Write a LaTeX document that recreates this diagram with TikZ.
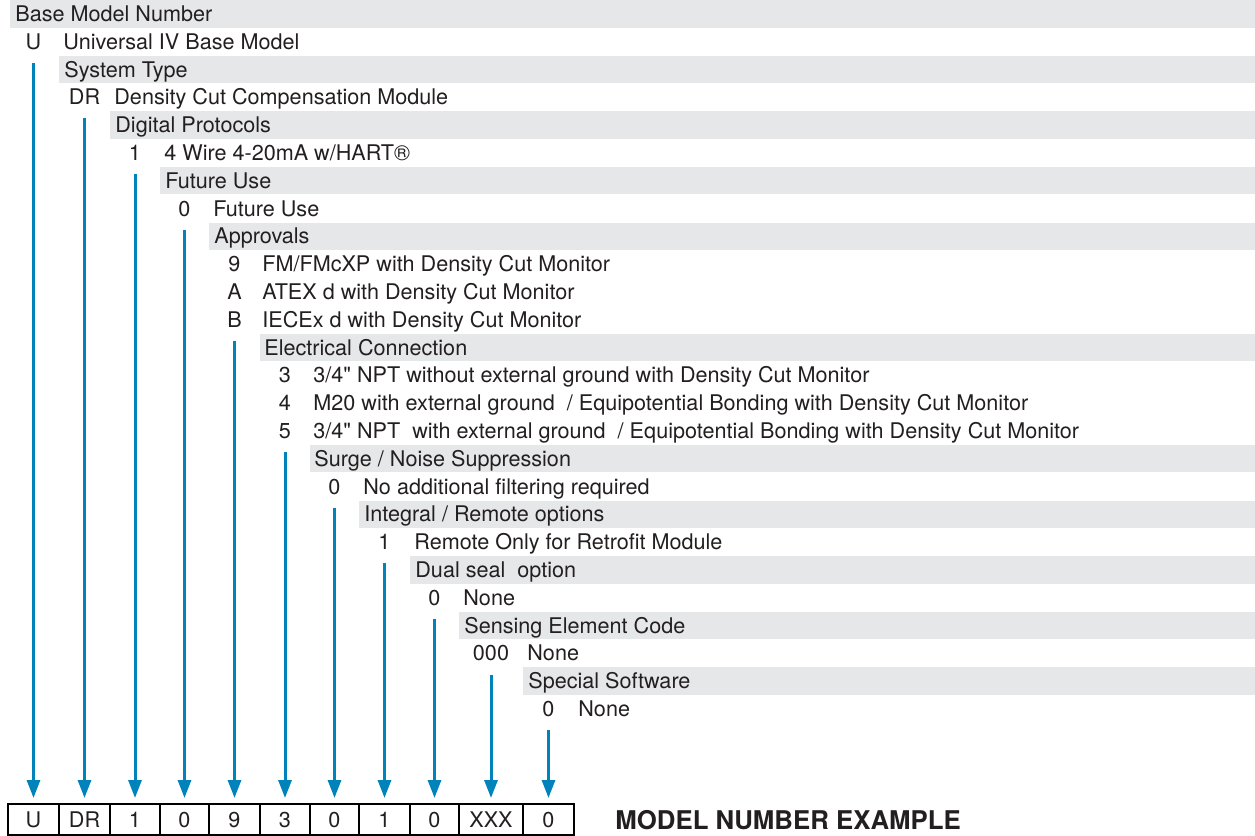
\documentclass[tikz,border=0pt]{standalone}
\usepackage{fontspec}
\setmainfont{TeX Gyre Heros}[Ligatures=TeXOff]
\usepackage{xcolor}
\definecolor{ink}{HTML}{231F20}
\definecolor{barfill}{HTML}{E6E7E8}
\definecolor{flow}{HTML}{0082BA}
\usetikzlibrary{arrows.meta}

\begin{document}
\begin{tikzpicture}[x=0.5pt,y=-0.5pt,font=\fontsize{10.8}{12}\selectfont,text=ink,
  head/.style={anchor=base west,inner sep=0pt},
  opt/.style={anchor=base,inner sep=0pt},
  txt/.style={anchor=base west,inner sep=0pt},
  cell/.style={draw=black,line width=1pt,minimum height=15.5pt,inner sep=0pt},
  pick/.style={flow,line width=1.5pt,-{Triangle[length=9pt,width=6.5pt]},shorten >=2.5pt}]
  \useasboundingbox (0,0) rectangle (1255,836);
  % grey bars behind the headings
  \foreach \x/\y in {10/13.9,59/69.5,110/125.1,160/180.7,209/236.3,260/347.5,310/458.7,359/514.3,410/569.9,459/625.5,523/681.1}
    \fill[barfill] (\x,\y-13.75) rectangle (1255,\y+13.75);
  % headings and options
  \node[head] (hbase) at (15,21.5) {Base Model Number};
  \node[opt] (cU) at (33.5,49.3) {U};
  \node[txt] at (63,49.3) {Universal IV Base Model};
  \node[head] (hsys) at (64,77.1) {System Type};
  \node[opt] (cDR) at (84.5,104.9) {DR};
  \node[txt] at (114,104.9) {Density Cut Compensation Module};
  \node[head] (hdig) at (115,132.7) {Digital Protocols};
  \node[opt] (c1) at (135,160.5) {1};
  \node[txt] at (164,160.5) {4 Wire 4-20mA w/HART®};
  \node[head] (hfut) at (165,188.3) {Future Use};
  \node[opt] (cfut) at (184.5,216.1) {0};
  \node[txt] at (213,216.1) {Future Use};
  \node[head] (happ) at (214,243.9) {Approvals};
  \node[opt] (c9) at (234.5,271.7) {9};
  \node[txt] at (262,271.7) {FM/FMcXP with Density Cut Monitor};
  \node[opt] (cA) at (234.5,299.5) {A};
  \node[txt] at (262,299.5) {ATEX d with Density Cut Monitor};
  \node[opt] (cB) at (234.5,327.3) {B};
  \node[txt] at (262,327.3) {IECEx d with Density Cut Monitor};
  \node[head] (helec) at (264,355.1) {Electrical Connection};
  \node[opt] (c3) at (285,382.9) {3};
  \node[txt] at (313,382.9) {3/4" NPT without external ground with Density Cut Monitor};
  \node[opt] (c4) at (285,410.7) {4};
  \node[txt] at (313,410.7) {M20 with external ground\ \ / Equipotential Bonding with Density Cut Monitor};
  \node[opt] (c5) at (285,438.5) {5};
  \node[txt] at (313,438.5) {3/4" NPT\ \ with external ground\ \ / Equipotential Bonding with Density Cut Monitor};
  \node[head] (hsurge) at (314,466.3) {Surge / Noise Suppression};
  \node[opt] (csurge) at (334.5,494.1) {0};
  \node[txt] at (363,494.1) {No additional filtering required};
  \node[head] (hrem) at (364,521.9) {Integral / Remote options};
  \node[opt] (crem) at (384.5,549.7) {1};
  \node[txt] at (414,549.7) {Remote Only for Retrofit Module};
  \node[head] (hseal) at (415,577.5) {Dual seal\ \ option};
  \node[opt] (cseal) at (434.5,605.3) {0};
  \node[txt] at (463,605.3) {None};
  \node[head] (hsens) at (464,633.1) {Sensing Element Code};
  \node[opt] (csens) at (491,660.9) {000};
  \node[txt] at (527,660.9) {None};
  \node[head] (hsoft) at (528,688.7) {Special Software};
  \node[opt] (csoft) at (548.5,716.5) {0};
  \node[txt] at (578,716.5) {None};
  % example boxes
  \foreach \n/\x/\w/\t in {bU/33.5/25.5/U,bDR/84.5/25.5/DR,b1/135/25/1,bfut/184.5/24.5/0,b9/234.5/25.5/9,b3/285/25/3,
      bsurge/334.5/24.5/0,brem/384.5/25.5/1,bseal/434.5/24.5/0,bsens/491/32/XXX,bsoft/548.5/25.5/0}
    \node[cell,minimum width=\w pt] (\n) at (\x,819.5) {\t};
  \node[anchor=base west,inner sep=0pt,font=\fontsize{12.9}{14}\selectfont\bfseries] (title) at (615,829) {MODEL NUMBER EXAMPLE};
  % arrows down to the boxes
  \foreach \a/\b in {cU/bU,cDR/bDR,c1/b1,cfut/bfut,cB/b9,c5/b3,csurge/bsurge,crem/brem,cseal/bseal,csens/bsens,csoft/bsoft}
    \draw[pick] (\a.south) ++(0,13) -- (\b.north);
\end{tikzpicture}
\end{document}
